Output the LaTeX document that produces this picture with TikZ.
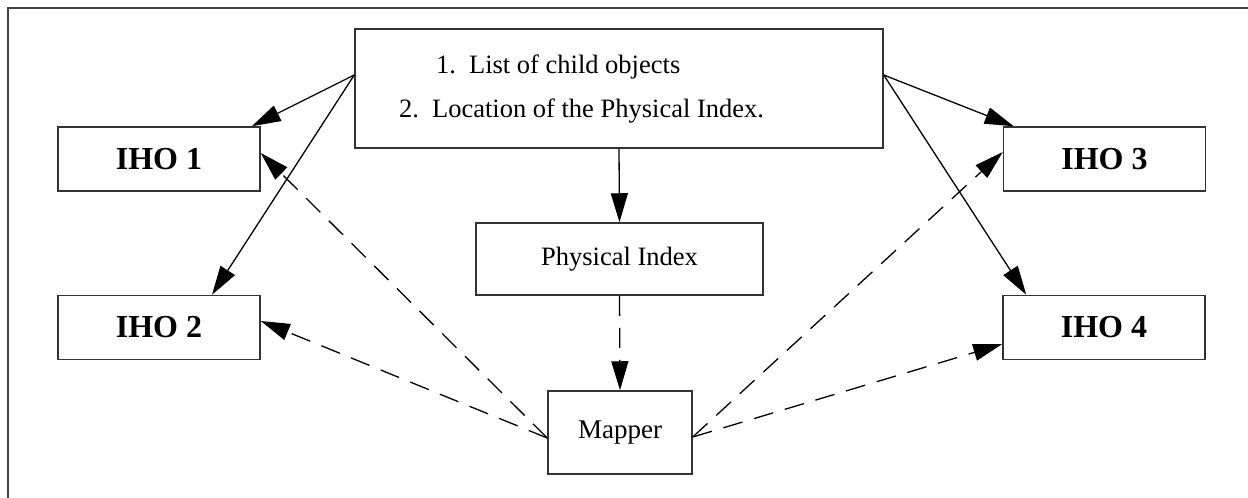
\documentclass[tikz,border=0pt]{standalone}
\usepackage{fontspec}
\setmainfont{Liberation Serif}
\usetikzlibrary{arrows.meta,calc}
\begin{document}
\begin{tikzpicture}[x=1pt,y=-1pt,
  box/.style={draw=black!80,line width=1.5pt,inner sep=0pt,fill=white},
  ihobox/.style={box,minimum width=202pt,minimum height=64pt,
    font=\fontsize{32}{36}\selectfont\bfseries},
  plain/.style={font=\fontsize{26.5}{30}\selectfont},
  conn/.style={line width=1.3pt,-{Triangle[length=29pt,width=17pt]}},
  dconn/.style={conn,dash pattern=on 20pt off 12pt}]
\useasboundingbox (0,0) rectangle (1248,498);
% outer frame (left and top edges)
\draw[black!75,line width=2pt] (8,498) -- (8,8) -- (1248,8);
% nodes
\node[box,minimum width=528pt,minimum height=119pt] (top) at (619,88.5) {};
\node[plain,anchor=base west,inner sep=0pt] (l1) at (436,73) {1.\hspace{13pt}List of child objects};
\node[plain,anchor=base west,inner sep=0pt] (l2) at (399,117) {2.\hspace{13pt}Location of the Physical Index.};
\node[ihobox] (i1) at (159,159) {IHO 1};
\node[ihobox] (i2) at (159,327.5) {IHO 2};
\node[ihobox] (i3) at (1104.5,159) {IHO 3};
\node[ihobox] (i4) at (1104,327.5) {IHO 4};
\node[box,plain,minimum width=287pt,minimum height=72pt] (pi) at (619.5,259) {Physical Index};
\node[box,font=\fontsize{27}{30}\selectfont,minimum width=144pt,minimum height=83pt] (m) at (620,432.5) {Mapper};
% solid connectors
\draw[conn] ([yshift=13.5pt]top.west) -- ([xshift=-9pt]i1.north east);
\draw[conn] ([yshift=13.5pt]top.west) -- ([xshift=53pt]i2.north);
\draw[conn] ([yshift=13.5pt]top.east) -- ([xshift=11pt]i3.north west);
\draw[conn] ([yshift=13.5pt]top.east) -- ([xshift=24pt]i4.north west);
\draw[conn] (top.south) -- (pi.north);
% dashed connectors
\draw[dconn] (pi.south) -- (m.north);
\draw[dconn] ([yshift=-5.5pt]m.west) -- ([yshift=6pt]i1.east);
\draw[dconn] ([yshift=-5.5pt]m.west) -- ([yshift=6.5pt]i2.east);
\draw[dconn] ([yshift=-4.5pt]m.east) -- ([yshift=7pt]i3.west);
\draw[dconn] ([yshift=-4.5pt]m.east) -- ([yshift=-16.5pt]i4.west);
\end{tikzpicture}
\end{document}
